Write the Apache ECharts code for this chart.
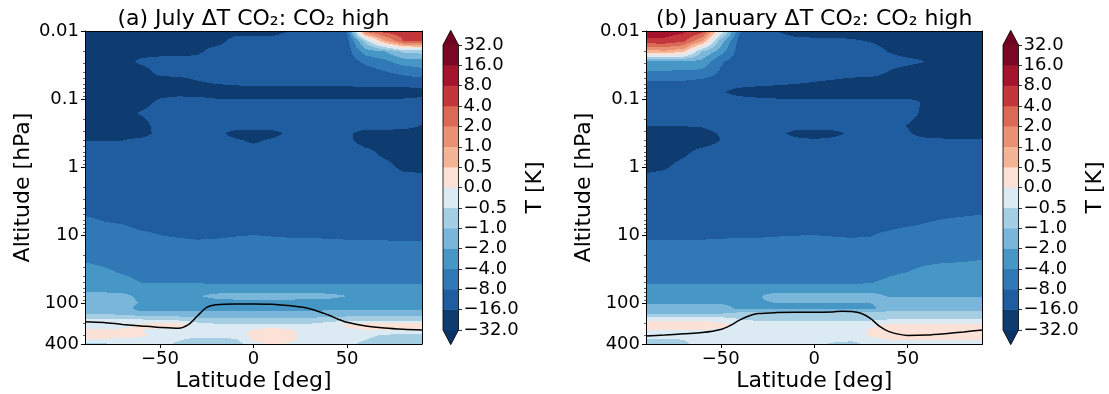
<!DOCTYPE html>
<html><head><meta charset="utf-8">
<script src="https://cdn.jsdelivr.net/npm/echarts@6/dist/echarts.min.js"></script>
<style>html,body{margin:0;padding:0;background:#fff}#c{width:1109px;height:394px}</style>
</head><body><div id="c"></div>
<script>
// ---------------- DATA ----------------
const LATS = [-90,-80,-70,-60,-50,-40,-30,-20,-10,0,10,20,30,40,50,60,70,80,90];
const PRESS = [0.01,0.014,0.02,0.028,0.04,0.056,0.079,0.11,0.16,0.25,0.32,0.4,0.63,1,1.6,2.5,4,6.3,10,16,25,35,50,63,79,100,120,145,174,209,251,302,347,400];

// July temperature change [K], rows follow PRESS, columns follow LATS
const JULY = [
[-24,-24,-24,-24,-24,-24,-24,-24,-24,-24,-24,-15,-12,-12,-8,3,6,6.5,7],
[-24,-24,-24,-24,-24,-24,-24,-24,-12.6,-12,-12,-12,-12,-12,-11,-0.75,0.9,4,4.2],
[-24,-24,-24,-24,-24,-24,-20,-12,-12,-12,-12,-12,-12,-12,-12,-3,-2,-0.9,-0.8],
[-24,-24,-24,-14,-12,-12,-12,-12,-12,-12,-12,-12,-12,-12,-12,-7,-5,-3,-2.8],
[-24,-24,-24,-24,-13.3,-12,-12,-12,-12,-12,-12,-12,-12,-12,-12,-12,-8.5,-7,-5.5],
[-24,-24,-24,-24,-24,-24,-17,-15,-14,-13,-13,-13,-13,-13,-13,-12,-12,-12,-12],
[-24,-24,-24,-24,-24,-24,-24,-24,-24,-24,-24,-24,-24,-24,-24,-24,-24,-24,-20],
[-24,-24,-24,-24,-14,-11,-12,-14,-14,-14,-14,-14,-14,-14,-14,-14,-14,-14,-14],
[-24,-24,-24,-15,-12,-12,-12,-12,-12,-12,-12,-12,-12,-12,-12,-12,-12,-12,-12],
[-24,-24,-24,-24,-12,-12,-12,-12,-12,-12,-12,-12,-12,-12,-12,-12,-12,-13,-17],
[-24,-24,-24,-24,-13,-12,-12,-13,-22,-23,-22,-13.5,-12,-12,-14,-24,-24,-24,-24],
[-16.5,-16.5,-16.5,-14,-12,-12,-12,-12,-15,-19,-15,-12,-12,-12,-14,-24,-24,-24,-24],
[-12,-12,-12,-12,-12,-12,-12,-12,-12,-12,-12,-12,-12,-12,-12,-13,-20,-24,-24],
[-12,-12,-12,-12,-12,-12,-12,-12,-12,-12,-12,-12,-12,-12,-12,-12,-13,-20,-22],
[-12,-12,-12,-12,-12,-12,-12,-12,-12,-12,-12,-12,-12,-12,-12,-12,-12,-12,-12],
[-12,-12,-12,-12,-12,-12,-12,-12,-12,-12,-12,-12,-12,-12,-12,-12,-12,-12,-12],
[-11,-12,-12,-12,-12,-12,-12,-12,-12,-12,-12,-12,-12,-12,-12,-12,-12,-12,-12],
[-7,-8,-9,-12,-12,-12,-12,-12,-12,-12,-12,-12,-12,-12,-12,-12,-12,-12,-12],
[-6,-6,-6,-7,-8,-9,-10,-9.5,-8.5,-8,-8.5,-9,-9,-9.5,-10,-10,-10.5,-11,-11],
[-6,-6,-6,-6,-6,-6,-6,-6,-6,-6,-6,-6,-6,-6,-6,-6,-6,-6,-6],
[-4,-5,-6,-6,-6,-6,-6,-6,-6,-6,-6,-6,-6,-6,-6,-6,-6,-6,-6],
[-3,-3.5,-4.5,-6,-6,-6,-6,-6,-6,-6,-6,-6,-6,-6,-6,-6,-6,-6,-6],
[-3,-3,-3,-4,-4.2,-4.2,-4.2,-4.5,-4.5,-4.5,-4.5,-4.5,-4.5,-4.5,-4.5,-4.5,-4.5,-4.5,-4.5],
[-2.8,-2.8,-2.8,-3,-3,-3,-3,-3,-3,-3,-3,-3,-3,-3,-3,-3,-3,-3,-3],
[-1.5,-1.5,-1.7,-2.5,-3,-3,-2.2,-1.7,-1.5,-1.5,-1.5,-1.5,-1.6,-1.7,-2,-3,-3,-3,-3],
[-1.5,-1.5,-1.5,-2.2,-3,-3,-3,-3,-3,-3,-3,-3,-3,-3,-3,-3,-3,-3,-3],
[-1.4,-1.4,-1.4,-3,-3,-3,-3,-3,-3,-3,-3,-3,-3,-2.4,-2.4,-2.4,-2.4,-2.4,-2.4],
[-1,-1,-1.2,-1.5,-1.5,-1.5,-1.5,-1.5,-1.5,-1.5,-1.5,-1.5,-1.5,-1.5,-1.5,-1.5,-1.5,-1.5,-1.5],
[-0.4,-0.4,-0.4,-0.5,-0.6,-0.7,-0.9,-0.9,-0.9,-0.9,-0.9,-0.9,-0.9,-0.8,-0.7,-0.7,-0.7,-0.7,-0.7],
[-0.2,-0.2,-0.1,0.1,0.3,0.3,-0.2,-0.4,-0.45,-0.4,-0.4,-0.4,-0.4,-0.2,0.1,0.25,0.25,0.25,0.25],
[0.05,0.05,0.05,0,-0.15,-0.2,-0.25,-0.25,-0.2,0.05,0.3,0.05,-0.2,-0.25,-0.1,0,0,0,0],
[0.25,0.25,0.25,0.1,-0.2,-0.25,-0.3,-0.3,-0.2,0.1,0.3,0.1,-0.2,-0.25,-0.25,-0.35,-0.6,-0.75,-0.75],
[-0.1,-0.1,-0.15,-0.25,-0.3,-0.45,-0.7,-0.75,-0.6,0.05,0.25,0.1,-0.2,-0.3,-0.35,-0.5,-0.75,-0.75,-0.75],
[-0.6,-0.6,-0.3,-0.3,-0.3,-0.6,-0.8,-0.8,-0.8,-0.2,0.1,-0.1,-0.3,-0.3,-0.4,-0.6,-0.8,-0.8,-0.8]
];

// January temperature change [K]
const JAN = [
[13,12,10,6,0,-7.5,-12,-16.5,-22,-24,-24,-24,-24,-24,-24,-24,-24,-24,-24],
[7,7,5,1.1,-1.5,-11,-12,-12,-14,-14,-14,-15,-17,-22,-24,-24,-24,-24,-24],
[0.75,0.9,0.6,-1,-3,-12,-12,-12,-12,-12,-12,-12,-12,-17,-24,-24,-24,-24,-24],
[-2,-2,-2.2,-2.5,-7.5,-12,-12,-12,-12,-12,-12,-12,-12,-12,-13.5,-16.5,-24,-24,-24],
[-4.5,-4.5,-4.8,-5,-9,-12,-12,-12,-12,-12,-12,-12,-12,-17,-24,-24,-24,-24,-24],
[-8.5,-8.5,-8.8,-10.5,-12,-12,-13,-14,-15,-16,-18,-22,-24,-24,-24,-24,-24,-24,-24],
[-17,-14,-12,-12,-15,-22,-24,-24,-24,-24,-24,-24,-24,-24,-24,-24,-24,-24,-24],
[-12,-12,-12,-12,-12,-12,-13,-14,-14,-14,-14,-14,-14,-14,-14,-18,-24,-24,-24],
[-12,-12,-12,-12,-12,-12,-12,-12,-12,-12,-12,-12,-12,-12,-13,-20,-24,-24,-24],
[-16,-16,-16,-15,-12,-12,-12,-12,-12,-12,-12,-12,-12,-12,-17,-24,-24,-24,-24],
[-24,-24,-24,-24,-15,-12,-12,-13,-22,-23,-22,-14,-12,-12,-15,-24,-24,-24,-24],
[-24,-24,-24,-24,-16,-12,-12,-12,-14,-15.5,-14,-12,-12,-12,-13,-14,-15,-15,-15],
[-24,-24,-19,-13,-12,-12,-12,-12,-12,-12,-12,-12,-12,-12,-12,-12,-12,-12,-12],
[-22,-18,-13,-12,-12,-12,-12,-12,-12,-12,-12,-12,-12,-12,-12,-12,-12,-12,-12],
[-12,-12,-12,-12,-12,-12,-12,-12,-12,-12,-12,-12,-12,-12,-12,-12,-12,-12,-12],
[-12,-12,-12,-12,-12,-12,-12,-12,-12,-12,-12,-12,-12,-12,-12,-12,-12,-12,-12],
[-12,-12,-12,-12,-12,-12,-12,-12,-12,-12,-12,-12,-12,-12,-12,-12,-12,-11.5,-11],
[-12,-12,-12,-12,-12,-12,-12,-12,-12,-12,-12,-12,-12,-12,-10.5,-8.5,-7.5,-7,-6.5],
[-10.5,-10.5,-10,-10,-9.5,-9,-9,-8.5,-8.2,-8,-8.5,-9,-8.5,-7,-6,-6,-6,-6,-6],
[-6,-6,-6,-6,-6,-6,-6,-6,-6,-6,-6,-6,-6,-6,-6,-6,-6,-6,-6],
[-6,-6,-6,-6,-6,-6,-6,-6,-6,-6,-6,-6,-6,-5.5,-5,-4.5,-4.2,-4,-3.8],
[-6,-6,-6,-6,-6,-6,-6,-6,-6,-6,-6,-6,-6,-4.8,-4,-3.5,-3,-3,-3],
[-4.5,-4.5,-4.5,-4.5,-4.5,-4.5,-4.5,-4.5,-4.5,-4.5,-4.5,-4.5,-4.2,-3.5,-3,-3,-3,-3,-3],
[-3,-3,-3,-3,-3,-3,-3,-3,-3,-3,-3,-3,-3,-3,-2.5,-2.5,-2.5,-2.5,-2.5],
[-3,-3,-3,-3,-3,-3,-2.2,-1.5,-1.5,-1.5,-1.5,-1.5,-1.5,-2.2,-2.1,-2.1,-2.1,-2.1,-2.1],
[-2.2,-2.2,-2.2,-2.2,-2.2,-2.5,-2.3,-2,-2,-2,-2,-2,-2,-1.6,-1.5,-1.5,-1.5,-1.5,-1.5],
[-1.5,-1.5,-1.5,-1.5,-1.5,-2.5,-2.5,-2.5,-2.5,-2.5,-2.5,-2.5,-2.5,-1.5,-1.5,-1.5,-1.5,-1.5,-1.5],
[-1,-1,-1,-1,-1,-0.75,-0.75,-0.75,-0.75,-0.75,-0.75,-0.75,-0.75,-0.75,-0.75,-0.75,-0.75,-0.75,-0.75],
[-0.1,-0.1,-0.1,-0.1,-0.2,-0.5,-0.6,-0.6,-0.6,-0.6,-0.6,-0.6,-0.6,-0.5,-0.5,-0.5,-0.5,-0.5,-0.5],
[0.25,0.25,0.25,0.25,0.15,-0.1,-0.25,-0.3,-0.3,-0.3,-0.3,-0.3,-0.1,0.05,0.1,0.1,0.1,0.1,0.1],
[0,0,0,0,-0.1,-0.2,-0.25,-0.25,-0.25,-0.25,-0.25,-0.25,0.05,0.25,0.3,0.3,0.3,0.3,0.3],
[-0.25,-0.25,-0.25,-0.2,-0.2,-0.2,-0.25,-0.25,-0.25,-0.25,-0.25,-0.25,0.05,0.25,0.25,0.25,0.25,0.25,0.25],
[-0.6,-0.6,-0.5,-0.3,-0.25,-0.25,-0.25,-0.25,-0.25,-0.25,-0.3,-0.4,-0.2,0,0,0,0,0,0],
[-0.75,-0.7,-0.6,-0.3,-0.25,-0.25,-0.25,-0.25,-0.25,-0.3,-0.6,-0.7,-0.3,-0.25,-0.25,-0.25,-0.25,-0.25,-0.25]
];

// tropopause lines
const TROP_LAT_JULY = [-90,-80,-70,-60,-50,-40,-35,-30,-25,-20,-10,0,10,20,30,40,45,50,60,70,80,90];
const TROP_P_JULY   = [188,193,206,217,228,235,210,155,116,106,103,103,104,110,121,150,172,192,217,233,243,249];
const TROP_LAT_JAN  = [-90,-80,-70,-60,-50,-45,-40,-35,-30,-20,-10,0,10,15,20,25,30,35,40,50,60,70,80,90];
const TROP_P_JAN    = [305,295,283,272,245,214,178,155,143,138,137,137,135,132,133,141,168,221,263,299,295,282,266,249];

const LEVELS = [-32,-16,-8,-4,-2,-1,-0.5,0,0.5,1,2,4,8,16,32];
const LEVEL_LABELS = ['\u221232.0','\u221216.0','\u22128.0','\u22124.0','\u22122.0','\u22121.0','\u22120.5','0.0','0.5','1.0','2.0','4.0','8.0','16.0','32.0'];
const BAND_COLORS = ['#0e3c70','#1f5da0','#3079b6','#4696c6','#7ab6d9','#a6cee3','#dcebf3','#fce2d6','#f5b496','#eb9173','#da6955','#c3373c','#a5142d','#780823'];
const UNDER_COLOR = '#0a3566';
const OVER_COLOR = '#6f0522';

const X_TICKS = [-50,0,50];
const Y_TICKS = [0.01,0.1,1,10,100,400];
const Y_TICK_LABELS = ['0.01','0.1','1','10','100','400'];
const Y_MINOR = [0.02,0.03,0.04,0.05,0.06,0.07,0.08,0.09,0.2,0.3,0.4,0.5,0.6,0.7,0.8,0.9,2,3,4,5,6,7,8,9,20,30,40,50,60,70,80,90,200,300];

const TITLES = ['(a) July \u0394T CO\u2082: CO\u2082 high','(b) January \u0394T CO\u2082: CO\u2082 high'];

// ---------------- RENDERING ----------------
const FONT = 'DejaVu Sans';
const LOG = v => Math.log10(v);
const LP = PRESS.map(LOG);
const YMAX = LOG(400);

function toU(v){
  const L = LEVELS, n = L.length;
  if (v < L[0]) return -1 + Math.max(0, (v - 2*L[0]) / (-L[0]));
  if (v >= L[n-1]) return n - 1 + (v - L[n-1]) / L[n-1];
  for (let k = 0; k < n-1; k++) if (v < L[k+1]) return k + (v - L[k]) / (L[k+1] - L[k]);
  return n - 1;
}
function bandColor(u){
  const k = Math.floor(u);
  if (k < 0) return UNDER_COLOR;
  if (k >= BAND_COLORS.length) return OVER_COLOR;
  return BAND_COLORS[k];
}
function clamp01(t){ return t < 0 ? 0 : (t > 1 ? 1 : t); }

function fieldSeries(field, xi, yi){
  const U = field.map(r => r.map(toU));
  const data = [];
  for (let j = 0; j < PRESS.length-1; j++)
    for (let i = 0; i < LATS.length-1; i++) data.push([LATS[i], LP[j], i, j]);
  return {
    type: 'custom', xAxisIndex: xi, yAxisIndex: yi, data, clip: true, silent: true, z: 1,
    animation: false,
    renderItem(params, api){
      const i = api.value(2), j = api.value(3);
      const a = api.coord([LATS[i], LP[j]]), b = api.coord([LATS[i+1], LP[j+1]]);
      const X0 = a[0], X1 = b[0], Y0 = a[1], Y1 = b[1];
      const xs = Math.round(Math.min(X0, X1)), xe = Math.round(Math.max(X0, X1));
      const ys = Math.round(Math.min(Y0, Y1)), ye = Math.round(Math.max(Y0, Y1));
      const u00 = U[j][i], u10 = U[j][i+1], u01 = U[j+1][i], u11 = U[j+1][i+1];
      const children = [];
      for (let py = ys; py < ye; py++){
        const fy = clamp01((py + 0.5 - Y0) / (Y1 - Y0));
        const uL = u00 + (u01 - u00) * fy, uR = u10 + (u11 - u10) * fy;
        let rs = xs, rc = null;
        for (let px = xs; px < xe; px++){
          const fx = clamp01((px + 0.5 - X0) / (X1 - X0));
          const c = bandColor(uL + (uR - uL) * fx);
          if (c !== rc){
            if (rc !== null) children.push({type:'rect', shape:{x:rs, y:py, width:px-rs, height:1}, style:{fill:rc}});
            rc = c; rs = px;
          }
        }
        if (rc !== null) children.push({type:'rect', shape:{x:rs, y:py, width:xe-rs, height:1}, style:{fill:rc}});
      }
      return {type:'group', children};
    }
  };
}

function lineSeries(lats, ps, xi, yi){
  return {
    type:'line', xAxisIndex:xi, yAxisIndex:yi, data: lats.map((l, k) => [l, LOG(ps[k])]),
    smooth: 0.3, symbol: 'none', silent: true, z: 3, animation: false,
    lineStyle: {color:'#000', width:1.5}
  };
}

const EXT = 0.72;
function colorbarSeries(xi, yi){
  const data = [];
  for (let k = -1; k <= LEVELS.length - 1; k++) data.push([0.5, k]);
  return {
    type:'custom', xAxisIndex:xi, yAxisIndex:yi, data, silent:true, clip:false, animation:false,
    renderItem(params, api){
      const k = api.value(1);
      const L = api.coord([0, 0])[0], R = api.coord([1, 0])[0];
      const top = LEVELS.length - 1;
      if (k === -1){
        const p0 = api.coord([0,0]), p1 = api.coord([1,0]), p2 = api.coord([0.5,-EXT]);
        return {type:'polygon', shape:{points:[[L,p0[1]],[R,p1[1]],p2]}, style:{fill:UNDER_COLOR}};
      }
      if (k === top){
        const p0 = api.coord([0,top]), p1 = api.coord([1,top]), p2 = api.coord([0.5,top+EXT]);
        return {type:'polygon', shape:{points:[[L,p0[1]],[R,p1[1]],p2]}, style:{fill:OVER_COLOR}};
      }
      const yA = api.coord([0, k])[1], yB = api.coord([0, k+1])[1];
      return {type:'rect', shape:{x:L, y:Math.min(yA,yB)-0.25, width:R-L, height:Math.abs(yA-yB)+0.5}, style:{fill:BAND_COLORS[k]}};
    }
  };
}
function colorbarOutline(xi, yi){
  return {
    type:'custom', xAxisIndex:xi, yAxisIndex:yi, data:[[0.5,0]], silent:true, clip:false, z:5, animation:false,
    renderItem(params, api){
      const top = LEVELS.length - 1;
      const pts = [api.coord([0,0]), api.coord([0.5,-EXT]), api.coord([1,0]), api.coord([1,top]), api.coord([0.5,top+EXT]), api.coord([0,top])];
      return {type:'polygon', shape:{points:pts}, style:{fill:null, stroke:'#000', lineWidth:0.8}};
    }
  };
}

const PANELS = [
  {left:85, width:337, cbLeft:443},
  {left:646, width:336.5, cbLeft:1003}
];
const TOP = 31, HEIGHT = 313;
const CB_TOP = 45, CB_HEIGHT = 285, CB_W = 15.5;

const grids = [], xAxes = [], yAxes = [], series = [], graphics = [];
const axisText = {color:'#000', fontFamily:FONT, fontSize:18};
const fmtX = v => (v < 0 ? '\u2212' : '') + Math.abs(v);
const fmtY = v => { for (let k = 0; k < Y_TICKS.length; k++) if (Math.abs(LOG(Y_TICKS[k]) - v) < 1e-6) return Y_TICK_LABELS[k]; return ''; };

PANELS.forEach((P, n) => {
  const g = grids.length;
  grids.push({left:P.left, top:TOP, width:P.width, height:HEIGHT, containLabel:false});
  const xb = xAxes.length;
  xAxes.push({gridIndex:g, type:'value', min:-90, max:90, position:'bottom', z:10,
    axisLine:{show:true, onZero:false, lineStyle:{color:'#000', width:1}},
    axisTick:{show:true, customValues:X_TICKS, length:4, lineStyle:{color:'#000', width:1}},
    axisLabel:{show:true, customValues:X_TICKS, formatter:fmtX, margin:6, ...axisText},
    splitLine:{show:false}});
  xAxes.push({gridIndex:g, type:'value', min:-90, max:90, position:'top', z:10,
    axisLine:{show:true, onZero:false, lineStyle:{color:'#000', width:1}},
    axisTick:{show:false}, axisLabel:{show:false}, splitLine:{show:false}});
  const yl = yAxes.length;
  yAxes.push({gridIndex:g, type:'value', min:-2, max:YMAX, inverse:true, position:'left', z:10,
    axisLine:{show:true, onZero:false, lineStyle:{color:'#000', width:1}},
    axisTick:{show:true, customValues:Y_TICKS.map(LOG), length:4, lineStyle:{color:'#000', width:1}},
    axisLabel:{show:true, customValues:Y_TICKS.map(LOG), formatter:fmtY, margin:6, ...axisText},
    splitLine:{show:false}});
  yAxes.push({gridIndex:g, type:'value', min:-2, max:YMAX, inverse:true, position:'left', z:10,
    axisLine:{show:false, onZero:false}, axisLabel:{show:false}, splitLine:{show:false},
    axisTick:{show:true, customValues:Y_MINOR.map(LOG), length:2, lineStyle:{color:'#000', width:0.6}}});
  yAxes.push({gridIndex:g, type:'value', min:-2, max:YMAX, inverse:true, position:'right', z:10,
    axisLine:{show:true, onZero:false, lineStyle:{color:'#000', width:1}},
    axisTick:{show:false}, axisLabel:{show:false}, splitLine:{show:false}});
  series.push(fieldSeries(n === 0 ? JULY : JAN, xb, yl));
  series.push(n === 0 ? lineSeries(TROP_LAT_JULY, TROP_P_JULY, xb, yl) : lineSeries(TROP_LAT_JAN, TROP_P_JAN, xb, yl));

  // colorbar
  const cg = grids.length;
  grids.push({left:P.cbLeft, top:CB_TOP, width:CB_W, height:CB_HEIGHT, containLabel:false});
  const cx = xAxes.length;
  xAxes.push({gridIndex:cg, type:'value', min:0, max:1, show:false});
  const cy = yAxes.length;
  const idx = LEVELS.map((_, k) => k);
  yAxes.push({gridIndex:cg, type:'value', min:0, max:LEVELS.length-1, position:'right', z:10,
    axisLine:{show:false, onZero:false},
    axisTick:{show:true, customValues:idx, length:3.5, lineStyle:{color:'#000', width:0.8}},
    axisLabel:{show:true, customValues:idx, formatter:v => LEVEL_LABELS[Math.round(v)], margin:5, ...axisText},
    splitLine:{show:false}});
  series.push(colorbarSeries(cx, cy));
  series.push(colorbarOutline(cx, cy));

  const cxMid = P.left + P.width/2;
  graphics.push({type:'text', x:cxMid, y:19, style:{text:TITLES[n], font:'22px "DejaVu Sans"', fill:'#000', textAlign:'center', textVerticalAlign:'middle'}});
  graphics.push({type:'text', x:cxMid, y:381, style:{text:'Latitude [deg]', font:'22px "DejaVu Sans"', fill:'#000', textAlign:'center', textVerticalAlign:'middle'}});
  graphics.push({type:'text', x:P.left - 62, y:TOP + HEIGHT/2, rotation:Math.PI/2, style:{text:'Altitude [hPa]', font:'22px "DejaVu Sans"', fill:'#000', textAlign:'center', textVerticalAlign:'middle'}});
  graphics.push({type:'text', x:P.cbLeft + 92.5, y:CB_TOP + CB_HEIGHT/2, rotation:Math.PI/2, style:{text:'T [K]', font:'22px "DejaVu Sans"', fill:'#000', textAlign:'center', textVerticalAlign:'middle'}});
});

const chart = echarts.init(document.getElementById('c'), null, {renderer:'canvas'});
chart.setOption({
  animation:false, backgroundColor:'#fff',
  grid:grids, xAxis:xAxes, yAxis:yAxes, series, graphic:graphics
});
</script></body></html>
